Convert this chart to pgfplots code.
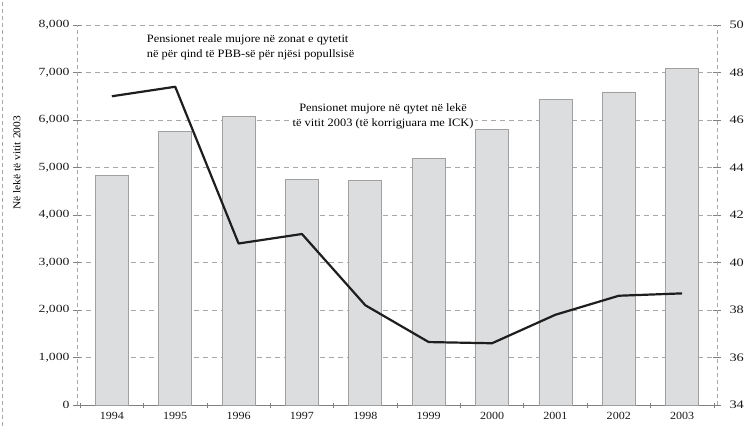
\documentclass[border=0pt]{standalone}
\usepackage{fontspec}
\setmainfont{Liberation Serif}[FakeStretch=1.1]
\newfontfamily\tickfont{Liberation Serif}[FakeStretch=1.25]
\usepackage{pgfplots}
\pgfplotsset{compat=1.18}

\definecolor{barfill}{HTML}{DCDDDF}
\definecolor{baredge}{HTML}{A0A0A0}
\definecolor{gridc}{HTML}{A8A8A8}
\definecolor{linec}{HTML}{1E1E1E}

\begin{document}
\begin{tikzpicture}
\path[use as bounding box] (-77bp,-21bp) rectangle (673bp,405bp);
\draw[gridc, dash pattern=on 4bp off 3bp, line width=0.6bp] (-75bp,-21bp) -- (-75bp,405bp);
\begin{axis}[
  scale only axis, width=640bp, height=380bp,
  xmin=-0.55, xmax=9.55, ymin=0, ymax=8000,
  axis x line=bottom, axis y line=left,
  x axis line style={-, gray, line width=0.8bp},
  y axis line style={-, gridc, dash pattern=on 4bp off 3bp, line width=0.6bp},
  xtick={0,...,9},
  xticklabels={1994,1995,1996,1997,1998,1999,2000,2001,2002,2003},
  major x tick style={draw=none},
  minor xtick={-0.5,0.5,...,9.5},
  minor x tick style={gray, line width=0.6bp},
  minor tick length=5bp,
  ytick={0,1000,...,8000},
  major tick length=8bp,
  tick align=center,
  y tick style={gray, line width=0.6bp},
  ymajorgrids,
  major grid style={gridc, dash pattern=on 5bp off 4bp, line width=0.6bp},
  scaled y ticks=false,
  /pgf/number format/.cd, 1000 sep={,}, assume math mode=true, /pgfplots/.cd,
  yticklabel style={font=\tickfont\fontsize{11}{13}\selectfont, text=black!90},
  xticklabel style={font=\fontsize{11}{13}\selectfont, text=black!90},
  ylabel={Në lekë të vitit 2003},
  ylabel style={at={(axis description cs:-0.094,0.637)}, anchor=center, font=\fontsize{10.5}{12}\selectfont},
]
\addplot[ybar, bar width=0.52, fill=barfill, draw=baredge, line width=0.8bp]
  coordinates {(0,4840) (1,5750) (2,6080) (3,4740) (4,4730) (5,5190) (6,5800) (7,6430) (8,6590) (9,7090)};
\node[anchor=west, align=left, font=\fontsize{11.3}{15}\selectfont, inner sep=0pt]
  at (axis cs:0.55,7540) {Pensionet reale mujore në zonat e qytetit\\në për qind të PBB-së për njësi popullsisë};
\node[align=center, fill=white, inner sep=1bp, font=\fontsize{11.3}{15}\selectfont]
  at (axis cs:4.28,6080) {Pensionet mujore në qytet në lekë\\të vitit 2003 (të korrigjuara me ICK)};
\end{axis}
\begin{axis}[
  scale only axis, width=640bp, height=380bp,
  xmin=-0.55, xmax=9.55, ymin=34, ymax=50,
  axis x line=none, axis y line=right,
  y axis line style={-, gridc, dash pattern=on 4bp off 3bp, line width=0.6bp},
  ytick={34,36,...,50},
  major tick length=8bp,
  tick align=center,
  y tick style={gray, line width=0.6bp},
  /pgf/number format/assume math mode=true,
  yticklabel style={font=\tickfont\fontsize{11.5}{13}\selectfont, text=black!90, xshift=5bp},
]
\addplot[linec, line width=2.2bp, line join=round]
  coordinates {(0,47.0) (1,47.4) (2,40.8) (3,41.2) (4,38.2) (5,36.65) (6,36.6) (7,37.8) (8,38.6) (9,38.7)};
\end{axis}
\end{tikzpicture}
\end{document}
